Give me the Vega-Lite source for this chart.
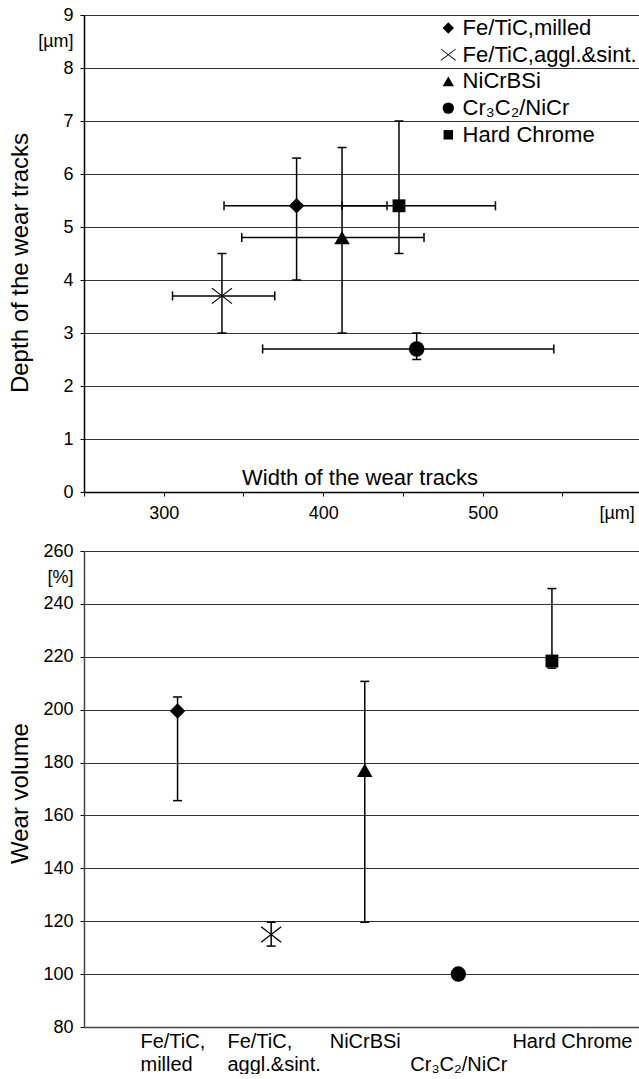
{
  "$schema": "https://vega.github.io/schema/vega-lite/v6.json",
  "padding": {"left": 8, "top": 6, "right": 0, "bottom": 0},
  "background": "white",
  "bounds": "flush",
  "spacing": 59,
  "resolve": {"scale": {"shape": "independent"}, "legend": {"shape": "independent"}},
  "config": {
    "font": "Liberation Sans",
    "view": {"stroke": null},
    "axis": {"labelColor": "black", "titleColor": "black", "labelFontSize": 18, "titleFontSize": 24, "titleFontWeight": "normal", "domainColor": "black", "tickColor": "black", "gridColor": "#333", "labelFont": "Liberation Sans", "titleFont": "Liberation Sans"},
    "legend": {"labelFont": "Liberation Sans"}
  },
  "datasets": {
    "wear": [
      {"name": "Fe/TiC,milled", "w": 383.3, "wlo": 337.8, "whi": 440, "d": 5.4, "dlo": 4.0, "dhi": 6.3},
      {"name": "Fe/TiC,aggl.&sint.", "w": 336.5, "wlo": 305.5, "whi": 369.6, "d": 3.7, "dlo": 3.0, "dhi": 4.5},
      {"name": "NiCrBSi", "w": 411.8, "wlo": 348.9, "whi": 463.2, "d": 4.8, "dlo": 3.0, "dhi": 6.5},
      {"name": "Cr₃C₂/NiCr", "w": 458.6, "wlo": 362, "whi": 544.6, "d": 2.7, "dlo": 2.5, "dhi": 3.0},
      {"name": "Hard Chrome", "w": 447.5, "wlo": 411.8, "whi": 508, "d": 5.4, "dlo": 4.5, "dhi": 7.0}
    ],
    "volume": [
      {"name": "Fe/TiC,milled", "v": 199.5, "vlo": 165.6, "vhi": 204.8},
      {"name": "Fe/TiC,aggl.&sint.", "v": 115, "vlo": 110.6, "vhi": 119.6},
      {"name": "NiCrBSi", "v": 177.1, "vlo": 119.6, "vhi": 210.7},
      {"name": "Cr₃C₂/NiCr", "v": 100},
      {"name": "Hard Chrome", "v": 218.4, "vlo": 215.7, "vhi": 245.8}
    ]
  },
  "vconcat": [
    {
      "width": 555,
      "height": 477,
      "data": {"name": "wear"},
      "layer": [
        {
          "mark": {"type": "rule", "color": "black", "strokeWidth": 1.5},
          "encoding": {
            "x": {"field": "wlo", "type": "quantitative", "title": "Width of the wear tracks", "scale": {"domain": [250, 598], "nice": false, "zero": false},
              "axis": {"values": [250, 300, 350, 400, 450, 500, 550, 584],
                "labelExpr": "datum.value == 584 ? '[µm]' : (datum.value % 100 == 0 ? datum.label : '')",
                "tickOpacity": {"condition": {"test": "datum.value == 584", "value": 0}, "value": 1},
                "tickSize": 4, "labelPadding": 8, "grid": false, "domainWidth": 1.5, "labelFlush": false, "labelOverlap": false,
                "titleX": 275.5, "titleY": -15, "titleBaseline": "middle", "titleAlign": "center", "titleFontSize": 22}},
            "x2": {"field": "whi"},
            "y": {"field": "d", "type": "quantitative", "title": "Depth of the wear tracks", "scale": {"domain": [0, 9], "nice": false},
              "axis": {"values": [0, 1, 2, 3, 4, 5, 6, 7, 8, 8.5, 9],
                "labelExpr": "datum.value == 8.5 ? '[µm]' : datum.label",
                "gridOpacity": {"condition": {"test": "datum.value == 8.5", "value": 0}, "value": 1},
                "tickOpacity": {"condition": {"test": "datum.value == 8.5", "value": 0}, "value": 1},
                "tickSize": 4, "labelPadding": 7, "domainWidth": 1.5, "labelOverlap": false, "labelFlush": false,
                "titleX": -64, "titleY": 247.5, "titleBaseline": "middle", "titleAlign": "center", "titleAngle": -90}}
          }
        },
        {
          "mark": {"type": "rule", "color": "black", "strokeWidth": 1.5},
          "encoding": {
            "x": {"field": "w", "type": "quantitative", "title": "Width of the wear tracks"},
            "y": {"field": "dlo", "type": "quantitative", "title": "Depth of the wear tracks"},
            "y2": {"field": "dhi"}
          }
        },
        {
          "mark": {"type": "tick", "orient": "vertical", "size": 9, "thickness": 1.5, "color": "black", "opacity": 1},
          "encoding": {
            "x": {"field": "wlo", "type": "quantitative", "title": "Width of the wear tracks"},
            "y": {"field": "d", "type": "quantitative", "title": "Depth of the wear tracks"}
          }
        },
        {
          "mark": {"type": "tick", "orient": "vertical", "size": 9, "thickness": 1.5, "color": "black", "opacity": 1},
          "encoding": {
            "x": {"field": "whi", "type": "quantitative", "title": "Width of the wear tracks"},
            "y": {"field": "d", "type": "quantitative", "title": "Depth of the wear tracks"}
          }
        },
        {
          "mark": {"type": "tick", "orient": "horizontal", "size": 9, "thickness": 1.5, "color": "black", "opacity": 1},
          "encoding": {
            "x": {"field": "w", "type": "quantitative", "title": "Width of the wear tracks"},
            "y": {"field": "dlo", "type": "quantitative", "title": "Depth of the wear tracks"}
          }
        },
        {
          "mark": {"type": "tick", "orient": "horizontal", "size": 9, "thickness": 1.5, "color": "black", "opacity": 1},
          "encoding": {
            "x": {"field": "w", "type": "quantitative", "title": "Width of the wear tracks"},
            "y": {"field": "dhi", "type": "quantitative", "title": "Depth of the wear tracks"}
          }
        },
        {
          "mark": {"type": "point", "filled": true, "color": "black", "size": 240, "opacity": 1},
          "encoding": {
            "x": {"field": "w", "type": "quantitative", "title": "Width of the wear tracks"},
            "y": {"field": "d", "type": "quantitative", "title": "Depth of the wear tracks"},
            "shape": {"field": "name", "type": "nominal",
              "scale": {"domain": ["Fe/TiC,milled", "Fe/TiC,aggl.&sint.", "NiCrBSi", "Cr₃C₂/NiCr", "Hard Chrome"],
                "range": ["diamond", "M-1.35,-0.94L1.25,1.06L1.35,0.94L-1.25,-1.06ZM-1.25,1.06L1.35,-0.94L1.25,-1.06L-1.35,0.94Z", "triangle-up", "circle", "M-0.83,-0.83L0.83,-0.83L0.83,0.83L-0.83,0.83Z"]},
              "legend": {"orient": "none", "legendX": 353.3, "legendY": 2, "title": null, "labelFontSize": 22, "symbolSize": 130,
                "labelOffset": 3.3, "rowPadding": 4.7, "padding": 0, "symbolFillColor": "black",
                "labelColor": "black", "labelLimit": 400, "symbolOpacity": 1}}
          }
        }
      ]
    },
    {
      "width": 555,
      "height": 476,
      "data": {"name": "volume"},
      "layer": [
        {
          "mark": {"type": "rule", "color": "black", "strokeWidth": 1.5},
          "encoding": {
            "x": {"field": "name", "type": "nominal", "sort": null, "title": null,
              "scale": {"type": "point", "domain": ["Fe/TiC,milled", "Fe/TiC,aggl.&sint.", "NiCrBSi", "Cr₃C₂/NiCr", "Hard Chrome"], "padding": 0.965, "align": 0.518},
              "axis": {"labelExpr": "datum.value == 'Fe/TiC,milled' ? ['Fe/TiC,', 'milled'] : datum.value == 'Fe/TiC,aggl.&sint.' ? ['Fe/TiC,', 'aggl.&sint.'] : datum.value == 'Cr₃C₂/NiCr' ? ['\u00a0', 'Cr₃C₂/NiCr'] : datum.label",
                "labelAlign": {"condition": {"test": "datum.value == 'Fe/TiC,milled' || datum.value == 'Fe/TiC,aggl.&sint.'", "value": "left"}, "value": "center"},
                "labelOffset": {"condition": [{"test": "datum.value == 'Fe/TiC,milled'", "value": -37.6}, {"test": "datum.value == 'Fe/TiC,aggl.&sint.'", "value": -44.2}, {"test": "datum.value == 'Hard Chrome'", "value": 20}], "value": 0},
                "ticks": false, "domainColor": "#444", "domainWidth": 1.5, "labelFontSize": 20, "labelLineHeight": 23, "labelPadding": 4,
                "labelBaseline": "top", "labelAngle": 0, "labelLimit": 300, "grid": false, "labelOverlap": false}},
            "y": {"field": "vlo", "type": "quantitative", "title": "Wear volume", "scale": {"domain": [80, 260], "nice": false, "zero": false},
              "axis": {"values": [80, 100, 120, 140, 160, 180, 200, 220, 240, 250, 260],
                "labelExpr": "datum.value == 250 ? '[%]' : datum.label",
                "gridOpacity": {"condition": {"test": "datum.value == 250", "value": 0}, "value": 1},
                "tickOpacity": {"condition": {"test": "datum.value == 250", "value": 0}, "value": 1},
                "tickSize": 4, "labelPadding": 7, "domainColor": "#444", "domainWidth": 1.5, "labelOverlap": false, "labelFlush": false,
                "titleX": -64, "titleY": 242, "titleBaseline": "middle", "titleAlign": "center", "titleAngle": -90}},
            "y2": {"field": "vhi"}
          }
        },
        {
          "mark": {"type": "tick", "orient": "horizontal", "size": 9, "thickness": 1.5, "color": "black", "opacity": 1},
          "encoding": {
            "x": {"field": "name", "type": "nominal", "sort": null, "title": null},
            "y": {"field": "vlo", "type": "quantitative", "title": "Wear volume"}
          }
        },
        {
          "mark": {"type": "tick", "orient": "horizontal", "size": 9, "thickness": 1.5, "color": "black", "opacity": 1},
          "encoding": {
            "x": {"field": "name", "type": "nominal", "sort": null, "title": null},
            "y": {"field": "vhi", "type": "quantitative", "title": "Wear volume"}
          }
        },
        {
          "mark": {"type": "point", "filled": true, "color": "black", "size": 240, "opacity": 1},
          "encoding": {
            "x": {"field": "name", "type": "nominal", "sort": null, "title": null},
            "y": {"field": "v", "type": "quantitative", "title": "Wear volume"},
            "shape": {"field": "name", "type": "nominal",
              "scale": {"domain": ["Fe/TiC,milled", "Fe/TiC,aggl.&sint.", "NiCrBSi", "Cr₃C₂/NiCr", "Hard Chrome"],
                "range": ["diamond", "M-1.35,-0.94L1.25,1.06L1.35,0.94L-1.25,-1.06ZM-1.25,1.06L1.35,-0.94L1.25,-1.06L-1.35,0.94Z", "triangle-up", "circle", "M-0.83,-0.83L0.83,-0.83L0.83,0.83L-0.83,0.83Z"]},
              "legend": null}
          }
        }
      ]
    }
  ]
}
